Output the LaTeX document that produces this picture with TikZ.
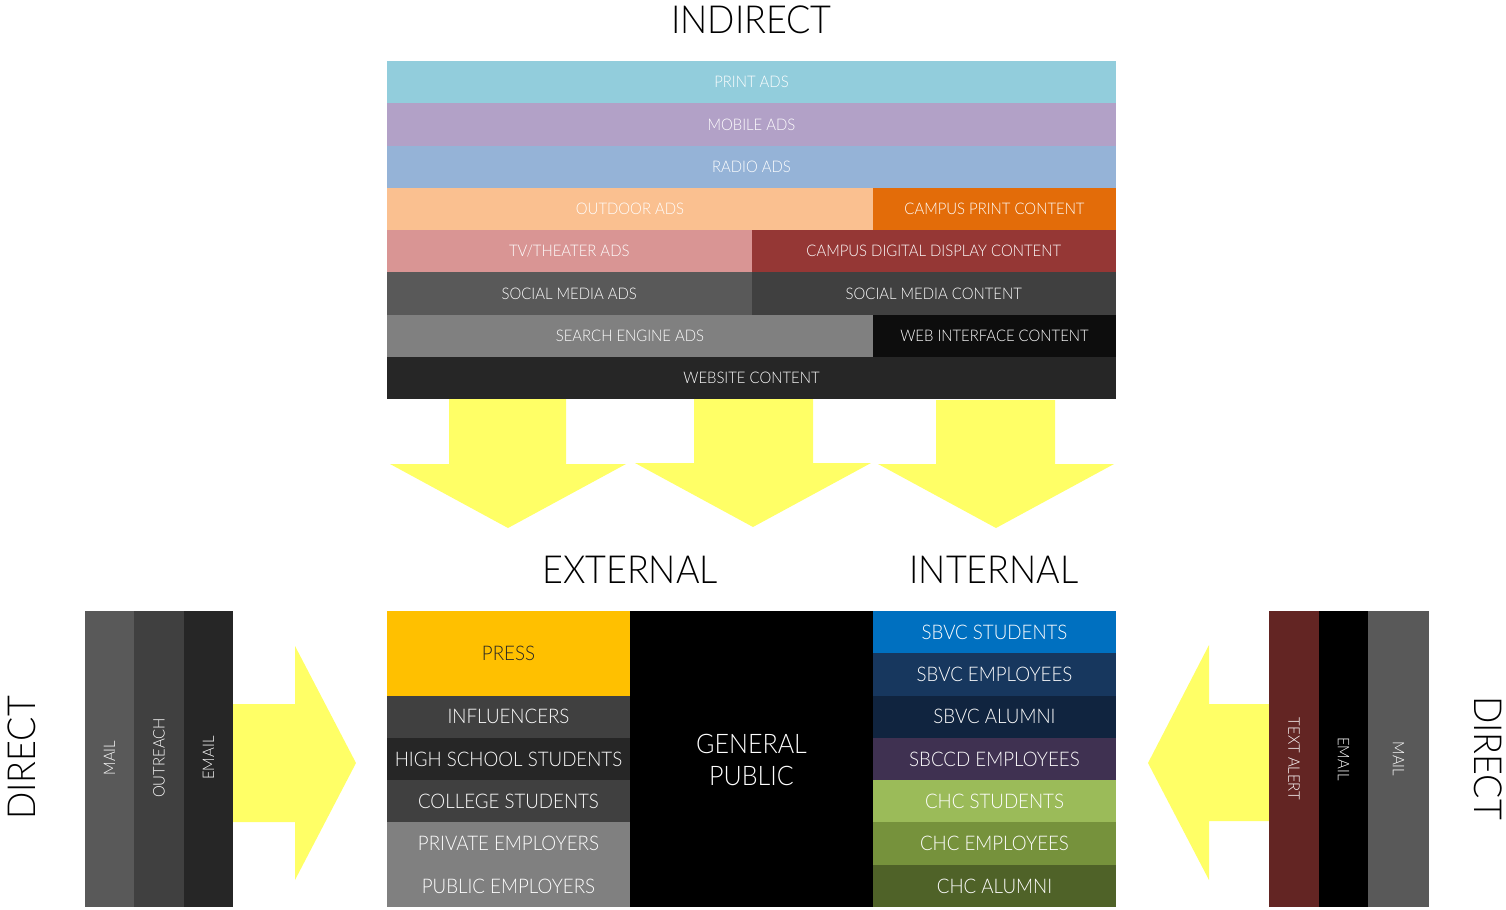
\documentclass[tikz,border=0pt]{standalone}
\usepackage{fontspec}
\setmainfont[FakeStretch=0.93]{Lato Light}
\definecolor{printads}{HTML}{92CDDC}
\definecolor{mobileads}{HTML}{B2A1C7}
\definecolor{radioads}{HTML}{95B3D7}
\definecolor{outdoorads}{HTML}{FAC090}
\definecolor{campusprint}{HTML}{E36C09}
\definecolor{tvads}{HTML}{D99594}
\definecolor{campusdigital}{HTML}{953735}
\definecolor{grayA}{HTML}{595959}
\definecolor{grayB}{HTML}{404040}
\definecolor{grayC}{HTML}{808080}
\definecolor{grayD}{HTML}{262626}
\definecolor{webcontent}{HTML}{0D0D0D}
\definecolor{press}{HTML}{FFC000}
\definecolor{sbvcstud}{HTML}{0070C0}
\definecolor{sbvcemp}{HTML}{17375E}
\definecolor{sbvcalum}{HTML}{10243F}
\definecolor{sbccdemp}{HTML}{3F3151}
\definecolor{chcstud}{HTML}{9BBB59}
\definecolor{chcemp}{HTML}{76923C}
\definecolor{chcalum}{HTML}{4F6228}
\definecolor{textalert}{HTML}{632523}
\definecolor{arrowyellow}{HTML}{FFFF66}
\begin{document}
\begin{tikzpicture}[x=0.75pt,y=-0.75pt,
	lbl/.style={text=white,inner sep=0pt,text depth=0pt,font=\fontsize{12}{14}\selectfont},
	big/.style={text=white,inner sep=0pt,text depth=0pt,font=\fontsize{15.1}{17}\selectfont},
	ttl/.style={text=black,inner sep=0pt,text depth=0pt,font=\fontsize{29}{35}\selectfont},
	arr/.style={fill=arrowyellow}]
				\useasboundingbox (0,0) rectangle (1506,910);
				% indirect block
				\fill[printads] (387,61) rectangle (1116,103.25);
				\fill[mobileads] (387,103.25) rectangle (1116,145.5);
				\fill[radioads] (387,145.5) rectangle (1116,187.75);
				\fill[outdoorads] (387,187.75) rectangle (873,230);
				\fill[campusprint] (873,187.75) rectangle (1116,230);
				\fill[tvads] (387,230) rectangle (751.5,272.25);
				\fill[campusdigital] (751.5,230) rectangle (1116,272.25);
				\fill[grayA] (387,272.25) rectangle (751.5,314.5);
				\fill[grayB] (751.5,272.25) rectangle (1116,314.5);
				\fill[grayC] (387,314.5) rectangle (873,356.75);
				\fill[webcontent] (873,314.5) rectangle (1116,356.75);
				\fill[grayD] (387,356.75) rectangle (1116,399);
				\node[lbl] (print) at (751.5,82.1) {PRINT ADS};
				\node[lbl] (mobile) at (751.5,124.4) {MOBILE ADS};
				\node[lbl] (radio) at (751.5,166.6) {RADIO ADS};
				\node[lbl] (outdoor) at (630,208.9) {OUTDOOR ADS};
				\node[lbl] (cprint) at (994.5,208.9) {CAMPUS PRINT CONTENT};
				\node[lbl] (tv) at (569.25,251.1) {TV/THEATER ADS};
				\node[lbl] (cdigital) at (933.75,251.1) {CAMPUS DIGITAL DISPLAY CONTENT};
				\node[lbl] (socads) at (569.25,293.4) {SOCIAL MEDIA ADS};
				\node[lbl] (soccont) at (933.75,293.4) {SOCIAL MEDIA CONTENT};
				\node[lbl] (search) at (630,335.6) {SEARCH ENGINE ADS};
				\node[lbl] (web) at (994.5,335.6) {WEB INTERFACE CONTENT};
				\node[lbl] (website) at (751.5,377.9) {WEBSITE CONTENT};
				% arrows
				\fill[arr] (449,399)--(566,399)--(566,464)--(626,464)--(508,528)--(390,464)--(449,464)--cycle;
				\fill[arr] (694,399)--(813,399)--(813,463)--(871,463)--(753,527)--(635,463)--(694,463)--cycle;
				\fill[arr] (936,400)--(1055,400)--(1055,464)--(1114,464)--(996,528)--(878,464)--(936,464)--cycle;
				\fill[arr] (233,704)--(295,704)--(295,646)--(356,763)--(295,880)--(295,822)--(233,822)--cycle;
				\fill[arr] (1269,704)--(1209,704)--(1209,645)--(1148,763)--(1209,880)--(1209,821)--(1269,821)--cycle;
				% titles
				\node[ttl] (indirect) at (751.5,20) {INDIRECT};
				\node[ttl] (external) at (630,570) {EXTERNAL};
				\node[ttl] (internal) at (994,570) {INTERNAL};
				\node[ttl,rotate=90] (directl) at (22,758) {DIRECT};
				\node[ttl,rotate=-90] (directr) at (1488,758) {DIRECT};
				% audiences
				\fill[press] (387,611) rectangle (630,695.6);
				\fill[grayB] (387,695.6) rectangle (630,737.9);
				\fill[grayD] (387,737.9) rectangle (630,780.1);
				\fill[grayB] (387,780.1) rectangle (630,822.4);
				\fill[grayC] (387,822.4) rectangle (630,907);
				\fill[black] (630,611) rectangle (873,907);
				\fill[sbvcstud] (873,611) rectangle (1116,653.3);
				\fill[sbvcemp] (873,653.3) rectangle (1116,695.6);
				\fill[sbvcalum] (873,695.6) rectangle (1116,737.9);
				\fill[sbccdemp] (873,737.9) rectangle (1116,780.1);
				\fill[chcstud] (873,780.1) rectangle (1116,822.4);
				\fill[chcemp] (873,822.4) rectangle (1116,864.7);
				\fill[chcalum] (873,864.7) rectangle (1116,907);
				\node[big,text=grayD] (press) at (508.5,653.3) {PRESS};
				\node[big] (infl) at (508.5,716.7) {INFLUENCERS};
				\node[big] (hs) at (508.5,759) {HIGH SCHOOL STUDENTS};
				\node[big] (coll) at (508.5,801.3) {COLLEGE STUDENTS};
				\node[big] (priv) at (508.5,843.6) {PRIVATE EMPLOYERS};
				\node[big] (pub) at (508.5,885.9) {PUBLIC EMPLOYERS};
				\node[big,align=center,font=\fontsize{20.2}{24.5}\selectfont] (gen) at (751.5,760) {GENERAL\\PUBLIC};
				\node[big] (sbvcs) at (994.5,632.1) {SBVC STUDENTS};
				\node[big] (sbvce) at (994.5,674.4) {SBVC EMPLOYEES};
				\node[big] (sbvca) at (994.5,716.7) {SBVC ALUMNI};
				\node[big] (sbccd) at (994.5,759) {SBCCD EMPLOYEES};
				\node[big] (chcs) at (994.5,801.3) {CHC STUDENTS};
				\node[big] (chce) at (994.5,843.6) {CHC EMPLOYEES};
				\node[big] (chca) at (994.5,885.9) {CHC ALUMNI};
				% direct channels
				\fill[grayA] (85,611) rectangle (134,907);
				\fill[grayB] (134,611) rectangle (184,907);
				\fill[grayD] (184,611) rectangle (233,907);
				\node[lbl,rotate=90] (lmail) at (109.5,758) {MAIL};
				\node[lbl,rotate=90] (outreach) at (159,758) {OUTREACH};
				\node[lbl,rotate=90] (lemail) at (208.5,758) {EMAIL};
				\fill[textalert] (1269,611) rectangle (1319,907);
				\fill[black] (1319,611) rectangle (1368,907);
				\fill[grayA] (1368,611) rectangle (1429,907);
				\node[lbl,rotate=-90] (alert) at (1294,759) {TEXT ALERT};
				\node[lbl,rotate=-90] (remail) at (1343.5,759) {EMAIL};
				\node[lbl,rotate=-90] (rmail) at (1398.5,759) {MAIL};
			\end{tikzpicture}
\end{document}
